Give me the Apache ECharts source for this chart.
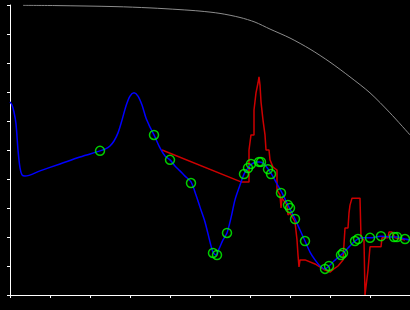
<!DOCTYPE html>
<html>
<head>
<meta charset="utf-8">
<script src="https://cdn.jsdelivr.net/npm/echarts@6/dist/echarts.min.js"></script>
<style>html,body{margin:0;padding:0;background:#000;}#c{width:410px;height:310px;}</style>
</head>
<body>
<div id="c"></div>
<script>
// Gray reference curve
const grayX = [3.25, 11.75, 26.25, 35, 42.5, 47.5, 52.5, 57.5, 61.25, 65, 70, 75, 80, 85, 90, 95, 100];
const grayY = [99.9, 99.8, 99.45, 99.0, 98.4, 97.9, 97.1, 95.7, 94.1, 91.7, 88.6, 84.8, 80.3, 75.2, 69.7, 62.8, 55.2];

// Blue fitted curve
const blueX = [0, 0.5, 1, 1.5, 2, 2.5, 3, 3.75, 7.5, 12.5, 17.5, 22.5, 23.75, 25, 26, 27, 28, 29, 30, 31, 32, 33, 34, 35, 36, 37.5, 38.75, 40, 41.25, 42.5, 43.75, 45.25, 46.5, 47.5, 48.75, 50, 50.75, 51.5, 52.25, 53.25, 54.25, 55.25, 56.25, 57.5, 58.5, 59.5, 60.5, 61.5, 62.5, 63.5, 64.5, 65.5, 66.75, 68, 69.5, 71.25, 72.5, 73.75, 75, 76.25, 77.5, 78.75, 79.75, 81, 82.75, 84.5, 86.25, 88, 90, 92.75, 95, 96.75, 98.75, 100];
const blueY = [66.6, 65.5, 63.1, 59.0, 50.0, 43.8, 41.4, 41.0, 42.8, 45.2, 47.6, 49.7, 50.3, 51.4, 53.1, 55.9, 60.3, 65.2, 68.6, 69.7, 68.6, 65.5, 61.0, 57.9, 55.2, 50.7, 47.9, 46.6, 44.5, 42.8, 41.0, 39.0, 34.5, 30.3, 25.2, 18.3, 14.8, 13.8, 15.9, 19.0, 21.4, 26.6, 32.8, 37.9, 41.7, 43.8, 45.2, 45.9, 45.9, 45.2, 43.5, 41.4, 38.3, 35.2, 31.0, 26.2, 22.4, 18.6, 14.8, 12.1, 10.0, 9.0, 10.0, 11.7, 13.8, 16.2, 18.6, 19.7, 19.7, 20.3, 20.0, 20.0, 19.3, 19.0];

// Green measured points
const ptsX = [22.5, 36, 40, 45.25, 50.75, 51.75, 54.25, 58.5, 59.5, 60.25, 62.25, 62.75, 64.5, 65.25, 67.75, 69.5, 70, 71.25, 73.75, 78.75, 79.75, 82.75, 83.25, 86.25, 87, 90, 92.75, 96, 96.75, 98.75];
const ptsY = [49.7, 55.2, 46.6, 38.6, 14.5, 13.8, 21.4, 41.7, 43.8, 45.2, 45.9, 45.9, 43.4, 41.7, 35.2, 31.0, 30.0, 26.2, 18.6, 9.0, 10.0, 13.8, 14.5, 18.6, 19.3, 19.7, 20.3, 20.0, 20.0, 19.3];

// Red raw trace
const redX = [38, 57.75, 59.75, 59.75, 60.25, 60.25, 61, 61, 61.5, 61.5, 62, 62, 62.25, 62.5, 62.5, 62.75, 63.25, 63.75, 64, 64.75, 65, 65.75, 66.75, 66.75, 67.5, 67.75, 68, 69.25, 69.5, 70, 71.25, 71.75, 72, 72.25, 72.5, 73.75, 76.25, 78.75, 80, 81.25, 82, 83.25, 83.75, 84.5, 84.75, 85, 85.5, 87.5, 87.75, 88.5, 88.75, 89.25, 89.5, 90, 92.75, 93, 94.5, 94.75, 95.5, 96.25, 98.75];
const redY = [50.0, 39.0, 39.0, 50.0, 50.0, 55.2, 55.2, 63.8, 63.8, 69.7, 69.7, 73.1, 75.2, 75.2, 72.4, 66.6, 60.3, 55.2, 50.0, 50.0, 46.6, 44.1, 43.1, 36.2, 34.5, 30.0, 33.4, 31.0, 27.6, 28.3, 25.2, 19.0, 13.8, 9.7, 12.1, 12.1, 10.7, 8.6, 7.9, 9.3, 10.0, 12.1, 23.1, 23.1, 28.3, 31.0, 33.4, 33.4, 19.7, 19.0, 0, 0, 8.6, 16.6, 16.6, 19.7, 19.7, 21.7, 21.7, 19.7, 19.0];

const zip = (xs, ys) => xs.map((x, i) => [x, ys[i]]);

const axisCommon = {
  type: 'value', min: 0, max: 100, interval: 10,
  axisLine: { show: true, lineStyle: { color: '#ffffff', width: 1 } },
  axisTick: { show: true, length: 3, lineStyle: { color: '#ffffff', width: 1 } },
  axisLabel: { show: false },
  splitLine: { show: false }
};

const chart = echarts.init(document.getElementById('c'));
chart.setOption({
  backgroundColor: '#000000',
  animation: false,
  grid: { left: 10, right: 0, top: 5, bottom: 15 },
  xAxis: Object.assign({}, axisCommon),
  yAxis: Object.assign({}, axisCommon),
  series: [
    { type: 'line', data: zip(grayX, grayY), smooth: 0.3, symbol: 'none', lineStyle: { color: '#8c8c8c', width: 1 }, z: 1 },
    { type: 'line', data: zip(redX, redY), smooth: false, symbol: 'none', lineStyle: { color: '#cc0000', width: 1.5 }, z: 2 },
    { type: 'line', data: zip(blueX, blueY), smooth: 0.3, symbol: 'none', lineStyle: { color: '#0000ff', width: 1.5 }, z: 3 },
    { type: 'scatter', data: zip(ptsX, ptsY), symbol: 'circle', symbolSize: 9, itemStyle: { color: 'rgba(0,0,0,0)', borderColor: '#00ff00', borderWidth: 1.5 }, z: 4 }
  ]
});
</script>
</body>
</html>
